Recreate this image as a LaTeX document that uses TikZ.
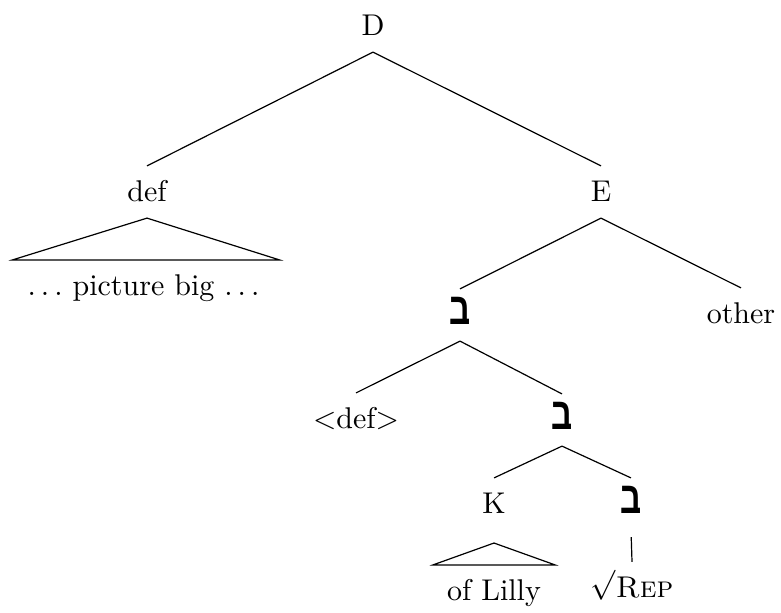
\documentclass[tikz,border=0pt]{standalone}
\usepackage{graphicx}
\usepackage{fontspec}
\newfontfamily\hebfont[Script=Hebrew]{Liberation Sans}
\TeXXeTstate=1
\newcommand{\bet}{\scalebox{1.1}[1.5]{\hebfont\bfseries\beginR ב\endR}}
\newcommand{\dotdotdot}{.\kern.1667em.\kern.1667em.\kern.1667em}

\begin{document}
\begin{tikzpicture}[x=0.3333pt, y=-0.3333pt]
    % Define styles
    \tikzstyle{word}=[anchor=base, inner sep=0pt, text height=7pt, text depth=1pt, outer sep=4.7pt]
    \tikzstyle{roofleaf}=[word, outer xsep=0pt]
    \useasboundingbox (0,0) rectangle (781,612);

    % Top: D and its two daughters
    \node[word] (D) at (373,35) {D};
    \node[word] (def) at (147,201) {def};
    \node[word] (E) at (601,201) {E};
    \draw (D.south) -- (def.north);
    \draw (D.south) -- (E.north);

    % Roof under def
    \node[roofleaf, minimum width=89pt] (picbig) at (146,295) {\dotdotdot\kern.1667em picture big \dotdotdot};
    \draw (def.south) -- (picbig.north west) -- (picbig.north east) -- cycle;

    % E splits into bet and other
    \node[word] (bet1) at (460,324) {\bet};
    \node[word] (other) at (741,323) {other};
    \draw (E.south) -- (bet1.north);
    \draw (E.south) -- (other.north);

    % Lower bet
    \node[word] (ldef) at (356,428) {$<$def$>$};
    \node[word] (bet2) at (562,429) {\bet};
    \draw (bet1.south) -- (ldef.north);
    \draw (bet1.south) -- (bet2.north);

    \node[word] (K) at (494,513) {K};
    \node[word] (bet3) at (631,513) {\bet};
    \draw (bet2.south) -- (K.north);
    \draw (bet2.south) -- (bet3.north);

    % Roof under K, root under the last bet
    \node[roofleaf, minimum width=40.7pt] (lilly) at (494,600) {of Lilly};
    \node[word] (rep) at (632,597) {$\sqrt{\vphantom{\mathrm{R}}}$\textsc{Rep}};
    \draw ([yshift=-4.3pt]K.south) -- (lilly.north west) -- (lilly.north east) -- cycle;
    \draw[shorten <=2.3pt] (bet3.south) -- (rep.north);
\end{tikzpicture}
\end{document}
